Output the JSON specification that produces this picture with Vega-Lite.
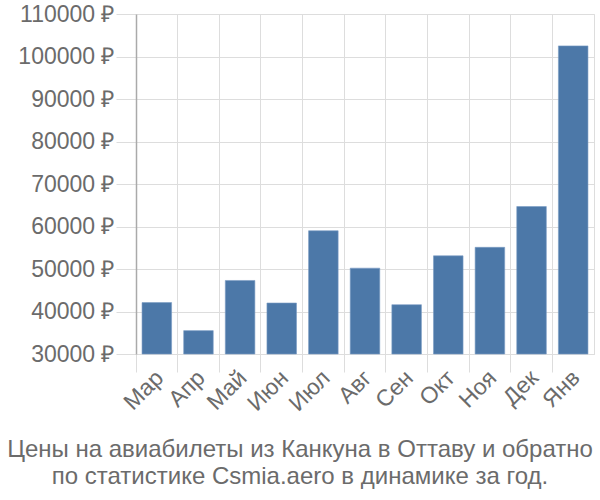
{
  "$schema": "https://vega.github.io/schema/vega-lite/v6.json",
  "width": 458,
  "height": 340,
  "autosize": "none",
  "padding": {"left": 136, "top": 14, "right": 6, "bottom": 146},
  "background": "white",
  "config": {
    "view": {"stroke": "#dddddd", "strokeWidth": 1},
    "font": "Liberation Sans"
  },
  "title": {
    "text": ["Цены на авиабилеты из Канкуна в Оттаву и обратно", "по статистике Csmia.aero в динамике за год."],
    "orient": "bottom",
    "anchor": "middle",
    "dx": -65,
    "offset": 22,
    "fontSize": 24,
    "fontWeight": "normal",
    "color": "#6b6b6b",
    "lineHeight": 27,
    "font": "Liberation Sans"
  },
  "data": {
    "values": [
      {"month": "Мар", "price": 42100},
      {"month": "Апр", "price": 35500},
      {"month": "Май", "price": 47300},
      {"month": "Июн", "price": 42000},
      {"month": "Июл", "price": 59000},
      {"month": "Авг", "price": 50200},
      {"month": "Сен", "price": 41600},
      {"month": "Окт", "price": 53100},
      {"month": "Ноя", "price": 55100},
      {"month": "Дек", "price": 64700},
      {"month": "Янв", "price": 102500}
    ]
  },
  "mark": {"type": "bar", "width": {"band": 0.71}, "color": "#4c78a8", "stroke": "#7a9cc4", "strokeWidth": 0.6},
  "encoding": {
    "x": {
      "field": "month",
      "type": "nominal",
      "sort": null,
      "scale": {"paddingInner": 0, "paddingOuter": 0},
      "axis": {
        "title": null,
        "bandPosition": 0,
        "grid": true,
        "gridColor": "#dddddd",
        "tickColor": "#dddddd",
        "tickSize": 18,
        "domainColor": "#dddddd",
        "labelAngle": -45,
        "labelAlign": "right",
        "labelBaseline": "middle",
        "labelFontSize": 23,
        "labelColor": "#6b6b6b",
        "labelPadding": 2,
        "labelOffset": 3
      }
    },
    "y": {
      "field": "price",
      "type": "quantitative",
      "scale": {"domain": [30000, 110000], "nice": false, "zero": false},
      "axis": {
        "title": null,
        "values": [30000, 40000, 50000, 60000, 70000, 80000, 90000, 100000, 110000],
        "labelExpr": "datum.value + ' ₽'",
        "grid": true,
        "gridColor": "#dddddd",
        "tickColor": "#dddddd",
        "tickSize": 20,
        "domainColor": "#aaaaaa",
        "domainWidth": 1.5,
        "labelFontSize": 23,
        "labelColor": "#6b6b6b",
        "labelPadding": 2
      }
    },
    "y2": {"datum": 30000}
  }
}
